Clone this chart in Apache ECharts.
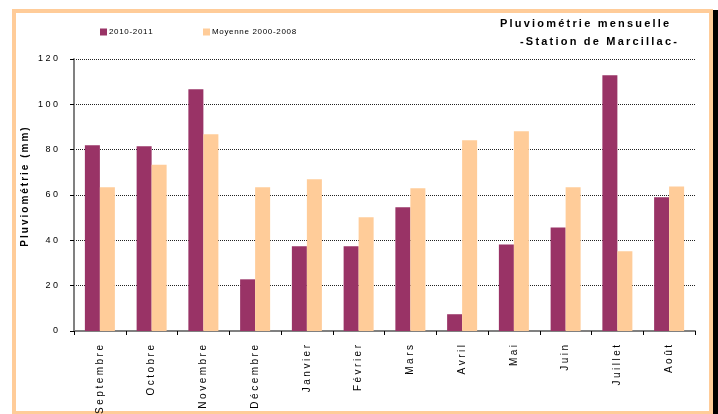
<!DOCTYPE html>
<html><head><meta charset="utf-8">
<script src="https://cdn.jsdelivr.net/npm/echarts@6/dist/echarts.min.js"></script>
<style>html,body{margin:0;padding:0;background:#fff}#c{width:718px;height:414px}</style>
</head><body><div id="c"></div>
<script>
const months = ["Septembre","Octobre","Novembre","Décembre","Janvier","Février","Mars","Avril","Mai","Juin","Juillet","Août"];
const rain2010 = [81.9, 81.5, 106.6, 22.8, 37.4, 37.4, 54.6, 7.4, 38.2, 45.7, 112.8, 59.0];
const moyenne = [63.4, 73.4, 86.8, 63.4, 66.9, 50.2, 63.0, 84.1, 88.1, 63.4, 35.2, 63.8];
const seriesNames = ["2010-2011", "Moyenne 2000-2008"];
const titleLines = ["Pluviométrie mensuelle", "-Station de Marcillac-"];
const yName = "Pluviométrie (mm)";

const FONT = '"Liberation Sans", Arial, sans-serif';
const sp = (s, g) => Array.from(s).join(g || '\u2009');

const chart = echarts.init(document.getElementById('c'), null, {renderer: 'canvas'});
chart.setOption({
  animation: false,
  backgroundColor: '#fff',
  graphic: [
    {type: 'rect', shape: {x: 14, y: 11, width: 697, height: 402}, style: {fill: 'none', stroke: '#FFCC99', lineWidth: 4}, z: 0},
    {type: 'rect', shape: {x: 713, y: 10, width: 5, height: 404}, style: {fill: '#000'}, z: 0},
    {type: 'text', x: 25, y: 187, rotation: Math.PI / 2,
     style: {text: sp(yName), fontFamily: FONT, fontSize: 10, fontWeight: 'bold', fill: '#000', align: 'center', verticalAlign: 'middle'}}
  ],
  title: [
    {text: sp(titleLines[0]), left: 500, top: 18, padding: 0, textStyle: {fontFamily: FONT, fontSize: 11, fontWeight: 'bold', color: '#000'}},
    {text: sp(titleLines[1]), left: 520, top: 36, padding: 0, textStyle: {fontFamily: FONT, fontSize: 11, fontWeight: 'bold', color: '#000'}}
  ],
  legend: [
    {left: 100, top: 28, padding: 0, itemWidth: 7, itemHeight: 7, icon: 'rect', data: [seriesNames[0]],
     formatter: n => sp(n, '\u200A'), textStyle: {fontFamily: FONT, fontSize: 8, color: '#000', padding: [0, 0, 0, -3]}},
    {left: 203, top: 28, padding: 0, itemWidth: 7, itemHeight: 7, icon: 'rect', data: [seriesNames[1]],
     formatter: n => sp(n, '\u200A'), textStyle: {fontFamily: FONT, fontSize: 8, color: '#000', padding: [0, 0, 0, -3]}}
  ],
  grid: {left: 74, right: 23, top: 59, bottom: 83, containLabel: false, outerBoundsMode: 'none'},
  xAxis: {
    type: 'category', data: months,
    axisLine: {lineStyle: {color: '#808080', width: 2}},
    axisTick: {show: true, length: 4, lineStyle: {color: '#000'}},
    axisLabel: {rotate: 90, margin: 14, fontFamily: FONT, fontSize: 10, color: '#000', formatter: v => sp(v, '\u2005')}
  },
  yAxis: {
    type: 'value', min: 0, max: 120, interval: 20,
    axisLine: {show: true, lineStyle: {color: '#808080', width: 2}},
    axisTick: {show: true, length: 4, lineStyle: {color: '#000'}},
    axisLabel: {margin: 16, fontFamily: FONT, fontSize: 9, color: '#000', formatter: v => sp(String(v), ' ')},
    splitLine: {lineStyle: {type: [1, 1], color: '#222', width: 1}}
  },
  series: [
    {name: seriesNames[0], type: 'bar', data: rain2010, barWidth: 15, barGap: '0%', itemStyle: {color: '#993366'}},
    {name: seriesNames[1], type: 'bar', data: moyenne, barWidth: 15, barGap: '0%', itemStyle: {color: '#FFCC99'}}
  ]
});
</script></body></html>
